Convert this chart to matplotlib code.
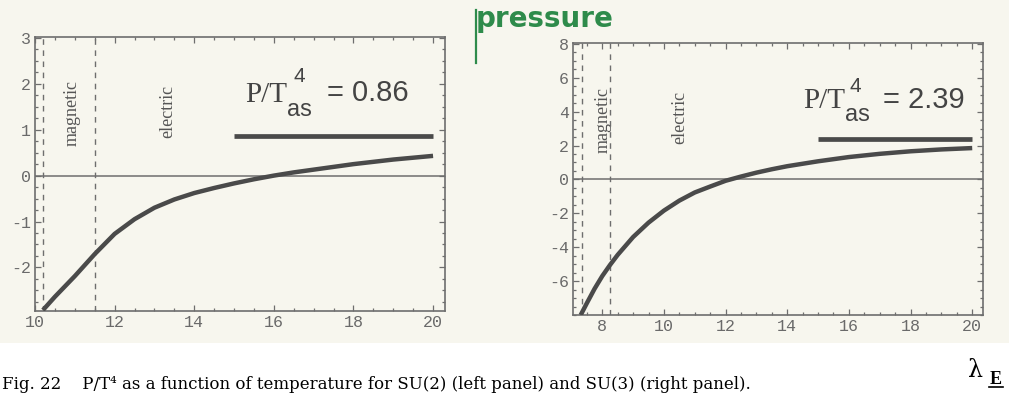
import matplotlib
matplotlib.use('Agg')
import matplotlib.pyplot as plt
from matplotlib.lines import Line2D
from matplotlib.patches import Rectangle
from matplotlib.ticker import MultipleLocator

plt.rcParams['axes.unicode_minus'] = False

# SU(2): pressure over T^4 versus lambda_E
su2_x = [10.2, 10.5, 11.0, 11.5, 12.0, 12.5, 13.0, 13.5, 14.0, 14.5, 15.0, 15.5, 16.0,
         16.5, 17.0, 17.5, 18.0, 18.5, 19.0, 19.5, 20.0]
su2_y = [-2.93, -2.64, -2.19, -1.71, -1.27, -0.95, -0.70, -0.52, -0.38, -0.27, -0.17, -0.08, 0.0,
         0.07, 0.13, 0.19, 0.25, 0.30, 0.35, 0.39, 0.43]
su2_asym = 0.86
su2_bounds = [10.2, 11.5]   # magnetic / electric region borders
su2_xticks = [10, 12, 14, 16, 18, 20]
su2_yticks = [-2, -1, 0, 1, 2, 3]

# SU(3)
su3_x = [7.3, 7.5, 7.75, 8.0, 8.25, 8.5, 9.0, 9.5, 10.0, 10.5, 11.0, 11.5, 12.0, 12.5, 13.0,
         13.5, 14.0, 15.0, 16.0, 17.0, 18.0, 19.0, 20.0]
su3_y = [-8.0, -7.3, -6.45, -5.7, -5.05, -4.45, -3.4, -2.55, -1.84, -1.25, -0.77, -0.42, -0.08, 0.17, 0.40,
         0.60, 0.78, 1.07, 1.32, 1.51, 1.66, 1.77, 1.85]
su3_asym = 2.39
su3_bounds = [7.33, 8.25]
su3_xticks = [8, 10, 12, 14, 16, 18, 20]
su3_yticks = [-6, -4, -2, 0, 2, 4, 6, 8]

asym_from, asym_to = 15.0, 20.0

W, H = 1009, 394
paper = '#f7f6ee'
ink = '#4a4a4a'
frame = '#6e6e6e'
label_grey = '#6a6a6a'

fig = plt.figure(figsize=(W / 100, H / 100), dpi=100)
fig.patch.set_facecolor('white')
fig.add_artist(Rectangle((0, 1 - 343 / H), 1, 343 / H, transform=fig.transFigure,
                         facecolor=paper, edgecolor='none', zorder=-10))


def px_axes(x0, x1, y0, y1):
    return fig.add_axes([x0 / W, 1 - y1 / H, (x1 - x0) / W, (y1 - y0) / H])


def panel(ax, xs, ys, asym, bounds, xlim, ylim, xticks, yticks, box):
    ax.set_facecolor('none')
    ax.plot(xs, ys, color=ink, lw=3.2, solid_capstyle='butt', solid_joinstyle='round', zorder=4)
    ax.plot([asym_from, asym_to], [asym, asym], color=ink, lw=3.4, solid_capstyle='butt', zorder=4)
    ax.axhline(0, color=frame, lw=1.1, zorder=2)
    for b in bounds:
        ax.axvline(b, color=frame, lw=1.0, ls=(0, (4, 4)), zorder=2)
    ax.set_xlim(*xlim)
    ax.set_ylim(*ylim)
    ax.set_xticks(xticks)
    ax.set_yticks(yticks)
    ax.xaxis.set_minor_locator(MultipleLocator(0.5))
    ax.yaxis.set_minor_locator(MultipleLocator((yticks[1] - yticks[0]) / 4))
    ax.tick_params(which='both', direction='in', top=True, right=True, color=frame, width=0.9)
    ax.tick_params(which='major', length=4, labelsize=12, labelcolor=label_grey, pad=3)
    ax.tick_params(which='minor', length=2)
    for lab in ax.get_xticklabels() + ax.get_yticklabels():
        lab.set_family('Liberation Mono')
    for s in ax.spines.values():
        s.set_color(frame)
        s.set_linewidth(1.2)

    x0, x1, y0, y1 = box

    def fr(px, py):
        return (px - x0) / (x1 - x0), (y1 - py) / (y1 - y0)

    return fr


def annotate(ax, fr, value, spots):
    p, four, sub, eq, mag, ele = spots
    kw = dict(transform=ax.transAxes, va='baseline', color='#444444')
    ax.text(*fr(*p), 'P/T', family='Liberation Serif', fontsize=21, **kw)
    ax.text(*fr(*four), '4', family='Liberation Sans', fontsize=15, **kw)
    ax.text(*fr(*sub), 'as', family='Liberation Sans', fontsize=17, **kw)
    ax.text(*fr(*eq), f'= {value:.2f}', family='Liberation Sans', fontsize=21, **kw)
    ax.text(*fr(*mag), 'magnetic', family='Liberation Serif', fontsize=13, color='#555555',
            rotation=90, ha='center', va='center', transform=ax.transAxes)
    ax.text(*fr(*ele), 'electric', family='Liberation Serif', fontsize=13, color='#555555',
            rotation=90, ha='center', va='center', transform=ax.transAxes)


# left panel: SU(2)
box_l = (35, 445, 37, 311)
axl = px_axes(*box_l)
fr = panel(axl, su2_x, su2_y, su2_asym, su2_bounds, (10, 20.3), (-2.95, 3.02),
           su2_xticks, su2_yticks, box_l)
annotate(axl, fr, su2_asym, [(245, 102), (293, 82), (287, 116), (327, 101), (72, 113), (168, 111)])

# right panel: SU(3)
box_r = (573, 983, 43, 315)
axr = px_axes(*box_r)
fr = panel(axr, su3_x, su3_y, su3_asym, su3_bounds, (7.05, 20.35), (-8.0, 8.05),
           su3_xticks, su3_yticks, box_r)
annotate(axr, fr, su3_asym, [(803, 108), (850, 92), (845, 121), (883, 108), (603, 120), (680, 117)])

# green handwritten heading
green = '#2e8b4b'
fig.text(545 / W, 1 - 27 / H, 'pressure', color=green, fontsize=20, fontweight='bold',
         family='DejaVu Sans', ha='center', va='baseline')
fig.add_artist(Line2D([476 / W, 476 / W], [1 - 10 / H, 1 - 63 / H], transform=fig.transFigure,
                      color=green, lw=1.6))

# axis variable at the lower right
fig.text(968 / W, 1 - 377 / H, 'λ', family='DejaVu Serif', fontsize=17, color='black', va='baseline')
fig.text(990 / W, 1 - 384 / H, 'E', family='Liberation Serif', fontsize=13, fontweight='bold',
         color='black', va='baseline')
fig.add_artist(Line2D([989 / W, 1003 / W], [1 - 387 / H, 1 - 387 / H], transform=fig.transFigure,
                      color='black', lw=1.2))

# caption along the bottom edge
fig.text(2 / W, 1 - 389 / H,
         'Fig. 22    P/T\u2074 as a function of temperature for SU(2) (left panel) and SU(3) (right panel).',
         family='DejaVu Serif', fontsize=12, color='black', va='baseline')

fig.savefig('out.png', dpi=100)
